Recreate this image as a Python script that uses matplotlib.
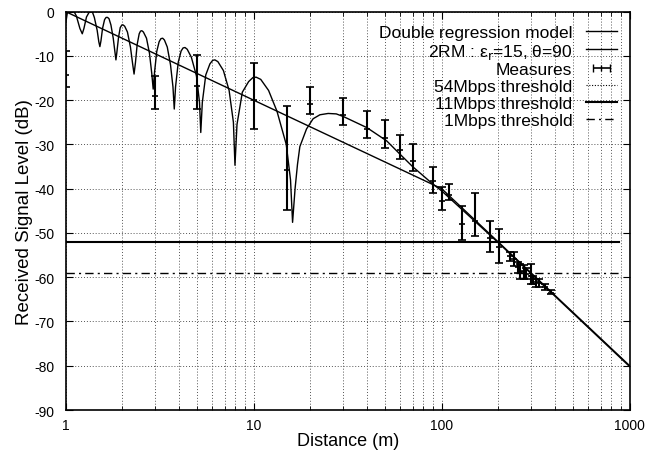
import numpy as np
import matplotlib
matplotlib.use("Agg")
import matplotlib.pyplot as plt

plt.rcParams['font.family'] = ['Liberation Sans', 'DejaVu Sans']
plt.rcParams['axes.unicode_minus'] = False

# double regression model (breakpoint ~100 m)
drm_x = [1, 100, 1000]
drm_y = [0, -40, -80]

# two-ray model, eps_r=15, theta=90
trm_x = [1.0, 1.02, 1.04, 1.06, 1.09, 1.14, 1.19, 1.225, 1.25, 1.29, 1.33, 1.36, 1.39,
         1.42, 1.47, 1.50, 1.52, 1.54, 1.57, 1.61, 1.64, 1.67, 1.70,
         1.74, 1.79, 1.83, 1.85, 1.87, 1.91, 1.95, 1.99, 2.02, 2.06,
         2.13, 2.21, 2.27, 2.31, 2.35, 2.40, 2.46, 2.50, 2.54, 2.59,
         2.69, 2.79, 2.87, 2.92, 2.97, 3.05, 3.14, 3.21, 3.28, 3.35,
         3.47, 3.61, 3.72, 3.78, 3.84, 3.97, 4.11, 4.21, 4.31, 4.43,
         4.66, 4.96, 5.15, 5.23, 5.33, 5.56, 5.85, 6.05, 6.22, 6.45,
         6.9, 7.4, 7.8, 7.95, 8.15, 8.7, 9.4, 9.9, 10.3, 10.9,
         12.0, 13.3, 14.9, 15.7, 16.1, 16.6, 17.1, 17.6,
         19.1, 20.7, 22.5, 24.9, 27.5, 30, 40, 51, 60, 70, 90,
         100, 200, 1000]
trm_y = [-2.5, -0.3, 0.8, 1.0, 0.6, -1.0, -3.8, -5.0, -3.8, -1.2, -0.2, 0.0, -0.2,
         -1.3, -4.2, -6.8, -7.9, -6.6, -3.8, -1.8, -1.3, -1.3, -1.6,
         -3.0, -6.0, -9.3, -10.9, -9.3, -5.8, -3.6, -3.0, -3.0, -3.3,
         -4.6, -8.0, -11.8, -14.1, -11.5, -7.4, -5.0, -4.4, -4.3, -4.6,
         -6.0, -9.4, -14.0, -17.5, -13.6, -9.0, -6.8, -6.1, -6.0, -6.4,
         -8.0, -12.0, -17.0, -22.0, -17.0, -11.4, -8.9, -8.2, -8.1, -8.5,
         -10.3, -14.5, -20.5, -27.3, -20.5, -14.3, -11.8, -11.0, -10.9, -11.3,
         -13.3, -17.8, -25.0, -34.7, -25.5, -18.2, -15.8, -14.9, -14.8, -15.3,
         -17.8, -22.5, -30.0, -38.0, -47.6, -40.0, -34.5, -30.5,
         -26.5, -24.2, -23.3, -23.0, -23.1, -23.7, -26.2, -29.2, -32.2, -35.0, -39.0,
         -40.5, -52.2, -80.2]

# measures with low / high bounds
meas_x = [1, 3, 5, 10, 15, 20, 30, 40, 50, 60, 70, 90, 100, 110, 129, 151,
          181, 201, 230, 243, 255, 262, 273, 281, 298, 305, 317, 328, 356, 380]
meas_y = [-14.2, -19.1, -16.9, -20.0, -35.7, -20.9, -23.4, -26.4, -28.6, -31.2,
          -33.7, -38.2, -42.7, -41.4, -47.9, -47.3, -51.2, -53.1, -55.3, -55.9,
          -57.8, -58.6, -58.8, -59.3, -59.7, -60.5, -61.1, -61.3, -62.2, -63.5]
meas_hi = [-8.9, -14.6, -9.9, -11.7, -21.4, -17.1, -19.5, -22.4, -24.5, -27.9,
           -30.0, -35.0, -39.7, -38.9, -43.8, -40.9, -47.4, -49.1, -54.2, -54.3,
           -56.6, -57.1, -57.3, -57.9, -57.1, -59.7, -60.3, -60.5, -61.5, -63.0]
meas_lo = [-17.1, -22.0, -22.0, -26.4, -44.8, -23.1, -25.6, -28.6, -30.7, -33.3,
           -35.9, -40.9, -44.9, -42.5, -51.6, -50.7, -54.3, -56.8, -56.3, -57.4,
           -59.0, -60.3, -60.4, -60.4, -61.6, -61.6, -62.2, -62.2, -63.0, -63.9]

# thresholds
thr_x = [1, 880]
thr_54 = -95
thr_11 = -52
thr_1 = -59

fig = plt.figure(figsize=(6.59, 4.52), dpi=100)
ax = fig.add_axes([0.0997, 0.0907, 0.8558, 0.8813])

h1, = ax.plot(drm_x, drm_y, color='black', lw=1.0, label='Double regression model')
h2, = ax.plot(trm_x, trm_y, color='black', lw=1.0, label='2RM : ε$_\\mathrm{r}$=15, θ=90')
my = np.array(meas_y)
yerr = [my - np.array(meas_lo), np.array(meas_hi) - my]
ax.errorbar(meas_x, meas_y, yerr=yerr, fmt='_', color='black', ms=5, mew=1.2,
            elinewidth=1.5, capsize=3, capthick=1.2)
# legend proxy, horizontal like the gnuplot key
h3 = ax.errorbar([np.nan], [np.nan], xerr=[[1], [1]], fmt='|', color='black', ms=4,
                 mew=1.0, elinewidth=1.2, capsize=3, capthick=1.2, label='Measures')
h4, = ax.plot(thr_x, [thr_54, thr_54], color='black', lw=0.8, ls=(0, (1, 1.5)), label='54Mbps threshold')
h5, = ax.plot(thr_x, [thr_11, thr_11], color='black', lw=1.5, label='11Mbps threshold')
h6, = ax.plot(thr_x, [thr_1, thr_1], color='black', lw=1.0, ls=(0, (6, 3, 1.5, 3)), label='1Mbps threshold')

ax.set_xscale('log')
ax.set_xlim(1, 1000)
ax.set_ylim(-90, 0)
ax.set_yticks(range(-90, 1, 10))
ax.set_xticks([1, 10, 100, 1000])
ax.set_xticklabels(['1', '10', '100', '1000'])
ax.grid(True, which='both', color='#555555', lw=0.7, ls=(0, (1, 2)))
ax.tick_params(which='both', direction='in', top=True, right=True, labelsize=10)
ax.tick_params(which='major', length=5)
ax.tick_params(which='minor', length=3)
ax.tick_params(axis='x', pad=6)
ax.tick_params(axis='y', pad=8)
for s in ax.spines.values():
    s.set_linewidth(1.2)

ax.set_xlabel('Distance (m)', fontsize=13, labelpad=0)
ax.set_ylabel('Received Signal Level (dB)', fontsize=13.5, labelpad=1)

handles = [h1, h2, h3, h4, h5, h6]
ax.legend(handles, [h.get_label() for h in handles], loc='upper right', frameon=False,
          markerfirst=False, fontsize=12.5, handlelength=1.75, labelspacing=0.1,
          borderaxespad=0.4, handletextpad=0.8, borderpad=0.35)

fig.savefig('out.png', dpi=100)
